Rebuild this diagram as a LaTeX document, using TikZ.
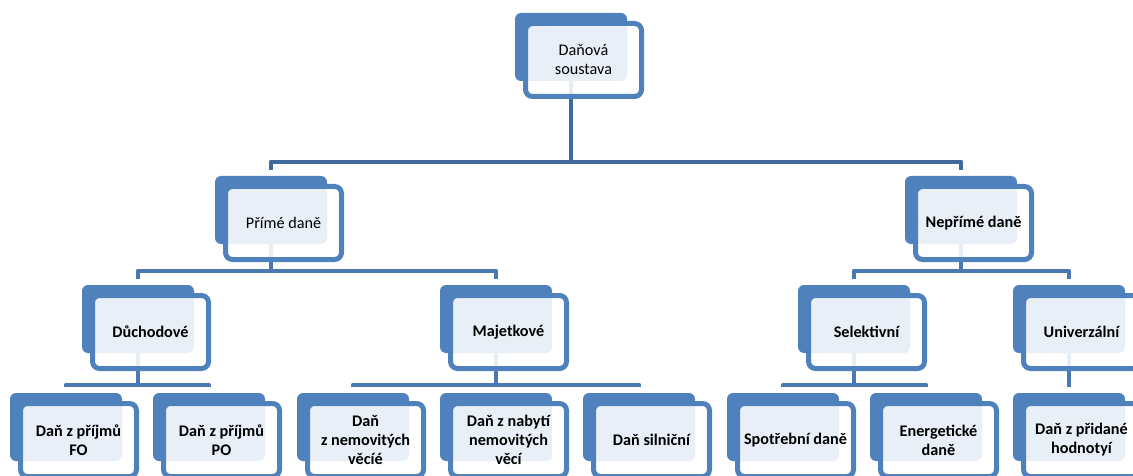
\documentclass[tikz,border=0pt]{standalone}
\usepackage{fontspec}
\setmainfont{Carlito}
\definecolor{accent}{HTML}{4F81BD}
\definecolor{connA}{HTML}{416A9C}
\definecolor{connB}{HTML}{4A78B3}
\pgfdeclarelayer{background}
\pgfsetlayers{background,main}
\tikzset{
  backbox/.style={rectangle, rounded corners=6pt, fill=accent, minimum width=112pt, minimum height=68pt, inner sep=0pt},
  frontbox/.style={rectangle, rounded corners=7pt, draw=accent, line width=5pt, fill=white, fill opacity=0.88, text opacity=1, draw opacity=1, minimum width=116pt, minimum height=73pt, inner sep=0pt, align=center, text=black, font=\fontsize{16.2}{19}\selectfont},
  boldtext/.style={font=\fontsize{16.2}{19}\selectfont\bfseries},
  plaintext/.style={},
  conn/.style={line width=4.5pt, line join=round, draw=connB},
}
\newcommand\taxbox[5]{%
  \node[backbox] (#1-b) at (#2+56,#3+34) {};
  \node[frontbox,#4] (#1) at (#2+68.5,#3+47) {#5};
}
\begin{document}
\begin{tikzpicture}[x=1pt,y=-1pt]
\useasboundingbox (0,0) rectangle (1133,476);
\clip (0,0) rectangle (1133,476);
% nodes
\taxbox{root}{515}{13}{plaintext}{Daňová\\soustava}
\taxbox{prime}{215}{176}{plaintext}{Přímé daně}
\taxbox{neprime}{905}{176}{boldtext}{Nepřímé daně}
\taxbox{duch}{82}{285}{boldtext}{Důchodové}
\taxbox{majet}{440}{285}{boldtext}{Majetkové}
\taxbox{selekt}{798}{285}{boldtext}{Selektivní}
\taxbox{univ}{1013}{285}{boldtext}{Univerzální}
\taxbox{fo}{10}{393}{boldtext}{Daň z příjmů\\FO}
\taxbox{po}{153}{393}{boldtext}{Daň z příjmů\\PO}
\taxbox{nemov}{297}{393}{boldtext}{Daň\\z nemovitých\\věcíé}
\taxbox{nabyti}{440}{393}{boldtext}{Daň z nabytí\\nemovitých\\věcí}
\taxbox{silnic}{583}{393}{boldtext}{Daň silniční}
\taxbox{spotr}{727}{393}{boldtext}{Spotřební daně}
\taxbox{energ}{870}{393}{boldtext}{Energetické\\daně}
\taxbox{dph}{1013}{393}{boldtext}{Daň z přidané\\hodnotyí}
% connectors
\begin{pgfonlayer}{background}
  \path ([yshift=14pt]prime-b.north) coordinate (h0);
  \draw[conn, draw=connA] (root-b.center) -- (root-b.center |- h0);
  \draw[conn, draw=connA] ([yshift=6pt]prime-b.north) -- (prime-b.north |- h0) -- (neprime-b.north |- h0) -- ([yshift=6pt]neprime-b.north);
  % level 1
  \path ([yshift=14pt]duch-b.north) coordinate (h1);
  \draw[conn] (prime-b.center) -- (prime-b.center |- h1);
  \draw[conn] ([yshift=6pt]duch-b.north) -- (duch-b.north |- h1) -- (majet-b.north |- h1) -- ([yshift=6pt]majet-b.north);
  \draw[conn] (neprime-b.center) -- (neprime-b.center |- h1);
  \draw[conn] ([yshift=6pt]selekt-b.north) -- (selekt-b.north |- h1) -- (univ-b.north |- h1) -- ([yshift=6pt]univ-b.north);
  % level 2
  \path ([yshift=8pt]fo-b.north) coordinate (h2);
  \draw[conn] (duch-b.center) -- (duch-b.center |- h2);
  \draw[conn] ([yshift=6pt]fo-b.north) -- (fo-b.north |- h2) -- (po-b.north |- h2) -- ([yshift=6pt]po-b.north);
  \draw[conn] (majet-b.center) -- (majet-b.center |- h2);
  \draw[conn] ([yshift=6pt]nemov-b.north) -- (nemov-b.north |- h2) -- (silnic-b.north |- h2) -- ([yshift=6pt]silnic-b.north);
  \draw[conn] (selekt-b.center) -- (selekt-b.center |- h2);
  \draw[conn] ([yshift=6pt]spotr-b.north) -- (spotr-b.north |- h2) -- (energ-b.north |- h2) -- ([yshift=6pt]energ-b.north);
  \draw[conn] (univ-b.center) -- ([yshift=6pt]dph-b.north);
\end{pgfonlayer}
\end{tikzpicture}
\end{document}
